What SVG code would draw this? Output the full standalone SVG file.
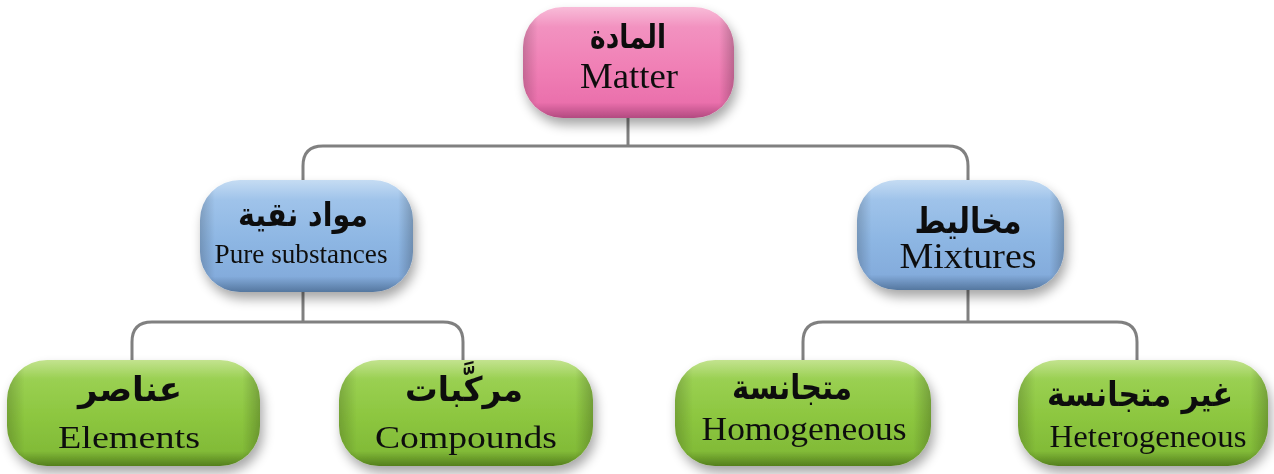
<svg xmlns="http://www.w3.org/2000/svg" width="1274" height="474" viewBox="0 0 1274 474">
<defs>
  <filter id="shadow" x="-20%" y="-30%" width="140%" height="170%">
    <feGaussianBlur in="SourceAlpha" stdDeviation="6"/>
    <feOffset dx="3" dy="7" result="b"/>
    <feComponentTransfer><feFuncA type="linear" slope="0.35"/></feComponentTransfer>
    <feMerge><feMergeNode/><feMergeNode in="SourceGraphic"/></feMerge>
  </filter>
  <linearGradient id="gPink" x1="0" y1="0" x2="0" y2="1">
    <stop offset="0" stop-color="#f8bcd8"/>
    <stop offset="0.18" stop-color="#f292c0"/>
    <stop offset="0.55" stop-color="#f07fb5"/>
    <stop offset="0.86" stop-color="#ea70ac"/>
    <stop offset="1" stop-color="#b24a80"/>
  </linearGradient>
  <linearGradient id="gBlue" x1="0" y1="0" x2="0" y2="1">
    <stop offset="0" stop-color="#c5dcf3"/>
    <stop offset="0.18" stop-color="#9fc3ea"/>
    <stop offset="0.55" stop-color="#8db6e3"/>
    <stop offset="0.86" stop-color="#84acdc"/>
    <stop offset="1" stop-color="#55779f"/>
  </linearGradient>
  <linearGradient id="gGreen" x1="0" y1="0" x2="0" y2="1">
    <stop offset="0" stop-color="#c3e38f"/>
    <stop offset="0.18" stop-color="#9ad052"/>
    <stop offset="0.55" stop-color="#8cc63f"/>
    <stop offset="0.86" stop-color="#82bb38"/>
    <stop offset="1" stop-color="#547f1d"/>
  </linearGradient>
  <linearGradient id="gEdge" x1="0" y1="0" x2="1" y2="0">
    <stop offset="0" stop-color="#000" stop-opacity="0.18"/>
    <stop offset="0.07" stop-color="#000" stop-opacity="0"/>
    <stop offset="0.93" stop-color="#000" stop-opacity="0"/>
    <stop offset="1" stop-color="#000" stop-opacity="0.22"/>
  </linearGradient>
  <style>
    .conn { fill: none; stroke: #808080; stroke-width: 3; }
    .edge { fill: url(#gEdge); }
    .en { font-family: "Liberation Serif", "Times New Roman", serif; fill: #111; text-anchor: middle; }
    .ar { font-family: "DejaVu Sans", "Noto Sans", sans-serif; font-weight: bold; fill: #111; text-anchor: middle; }
  </style>
</defs>
<rect width="1274" height="474" fill="#ffffff"/>

<g id="connectors">
  <path class="conn" d="M628,118 V146"/>
  <path class="conn" d="M303,180 V166 Q303,146 323,146 H948 Q968,146 968,166 V180"/>
  <path class="conn" d="M303,292 V322"/>
  <path class="conn" d="M132,360 V342 Q132,322 152,322 H443 Q463,322 463,342 V360"/>
  <path class="conn" d="M968,290 V322"/>
  <path class="conn" d="M803,360 V342 Q803,322 823,322 H1117 Q1137,322 1137,342 V360"/>
</g>

<g id="matter" filter="url(#shadow)">
  <rect x="523" y="7" width="211" height="111" rx="40" fill="url(#gPink)"/>
  <rect class="edge" x="523" y="7" width="211" height="111" rx="40"/>
  <text class="ar" x="628" y="48" font-size="33" textLength="76" lengthAdjust="spacingAndGlyphs">المادة</text>
  <text class="en" x="629" y="88" font-size="36" textLength="98" lengthAdjust="spacingAndGlyphs">Matter</text>
</g>

<g id="pure" filter="url(#shadow)">
  <rect x="200" y="180" width="213" height="112" rx="40" fill="url(#gBlue)"/>
  <rect class="edge" x="200" y="180" width="213" height="112" rx="40"/>
  <text class="ar" x="303" y="226" font-size="33" textLength="130" lengthAdjust="spacingAndGlyphs">مواد نقية</text>
  <text class="en" x="301" y="263" font-size="28" textLength="173" lengthAdjust="spacingAndGlyphs">Pure substances</text>
</g>

<g id="mixtures" filter="url(#shadow)">
  <rect x="857" y="180" width="207" height="110" rx="40" fill="url(#gBlue)"/>
  <rect class="edge" x="857" y="180" width="207" height="110" rx="40"/>
  <text class="ar" x="968" y="233" font-size="35" textLength="107" lengthAdjust="spacingAndGlyphs">مخاليط</text>
  <text class="en" x="968" y="268" font-size="35" textLength="137" lengthAdjust="spacingAndGlyphs">Mixtures</text>
</g>

<g id="elements" filter="url(#shadow)">
  <rect x="7" y="360" width="253" height="106" rx="40" fill="url(#gGreen)"/>
  <rect class="edge" x="7" y="360" width="253" height="106" rx="40"/>
  <text class="ar" x="130" y="401" font-size="34" textLength="104" lengthAdjust="spacingAndGlyphs">عناصر</text>
  <text class="en" x="129" y="448" font-size="32" textLength="142" lengthAdjust="spacingAndGlyphs">Elements</text>
</g>

<g id="compounds" filter="url(#shadow)">
  <rect x="339" y="360" width="254" height="106" rx="40" fill="url(#gGreen)"/>
  <rect class="edge" x="339" y="360" width="254" height="106" rx="40"/>
  <text class="ar" x="464" y="401" font-size="34" textLength="118" lengthAdjust="spacingAndGlyphs">مركَّبات</text>
  <text class="en" x="466" y="448" font-size="32" textLength="182" lengthAdjust="spacingAndGlyphs">Compounds</text>
</g>

<g id="homogeneous" filter="url(#shadow)">
  <rect x="675" y="360" width="256" height="106" rx="40" fill="url(#gGreen)"/>
  <rect class="edge" x="675" y="360" width="256" height="106" rx="40"/>
  <text class="ar" x="792" y="399" font-size="34" textLength="120" lengthAdjust="spacingAndGlyphs">متجانسة</text>
  <text class="en" x="804" y="440" font-size="33" textLength="205" lengthAdjust="spacingAndGlyphs">Homogeneous</text>
</g>

<g id="heterogeneous" filter="url(#shadow)">
  <rect x="1018" y="360" width="250" height="106" rx="40" fill="url(#gGreen)"/>
  <rect class="edge" x="1018" y="360" width="250" height="106" rx="40"/>
  <text class="ar" x="1140" y="406" font-size="34" textLength="186" lengthAdjust="spacingAndGlyphs">غير متجانسة</text>
  <text class="en" x="1148" y="447" font-size="32" textLength="197" lengthAdjust="spacingAndGlyphs">Heterogeneous</text>
</g>
</svg>
